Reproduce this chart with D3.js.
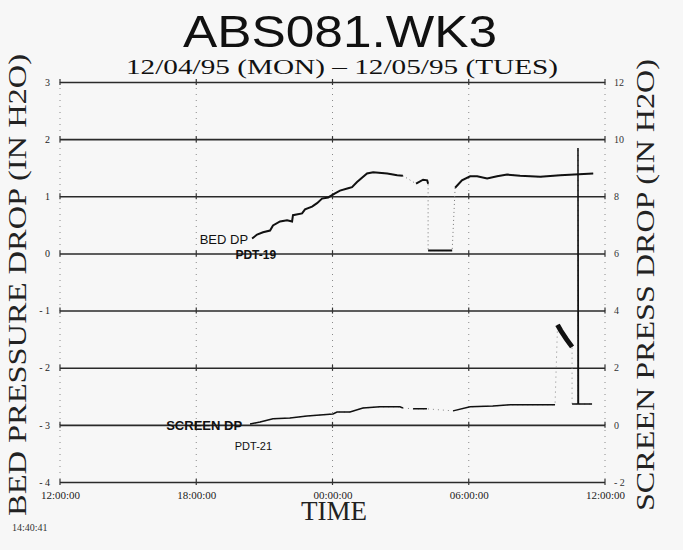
<!DOCTYPE html>
<html>
<head>
<meta charset="utf-8">
<script src="https://cdn.jsdelivr.net/npm/d3@7"></script>
<style>
  body { margin: 0; background: #f7f7f7; }
  svg { display: block; }
</style>
</head>
<body>
<div id="chart"></div>
<script>
// chart values (time in hours after 12:00 on 12/04/95)
var timeTicks = [0, 6, 12, 18, 24];
var timeLabels = ["12:00:00", "18:00:00", "00:00:00", "06:00:00", "12:00:00"];
var bedTicks = [-4, -3, -2, -1, 0, 1, 2, 3];
var screenTicks = [-2, 0, 2, 4, 6, 8, 10, 12];

// BED DP (PDT-19), left axis; null = pen lifted
var bedTime = [8.46, 8.68, 8.94, 9.25, 9.38, 9.69, 10.0, 10.22, 10.26, 10.66, 10.79, 11.1, 11.32, 11.54,
  11.81, 12.11, 12.33, 12.69, 12.86, 13.08, 13.52, 13.79, 14.41, 14.85, 15.1, 15.4,
  15.68, 15.99, 16.17, 16.21, 16.21,
  16.21, 17.27, 17.3,
  17.4, 17.7, 18.06, 18.37, 18.81, 19.25, 19.69, 20.26, 21.15, 22.03, 23.48];
var bedDp = [0.26, 0.33, 0.37, 0.40, 0.49, 0.56, 0.58, 0.56, 0.67, 0.70, 0.77, 0.82, 0.88, 0.96,
  0.98, 1.05, 1.10, 1.14, 1.16, 1.25, 1.40, 1.42, 1.40, 1.37, 1.36, null,
  1.22, 1.29, 1.28, 1.22, null,
  0.05, 0.05, null,
  1.15, 1.28, 1.35, 1.35, 1.31, 1.35, 1.38, 1.36, 1.34, 1.37, 1.40];

// SCREEN DP (PDT-21), right axis
var screenTime = [8.37, 8.81, 9.38, 10.13, 10.88, 12.02, 12.20, 12.77, 13.34, 14.09, 14.97, 15.10, 15.3,
  15.55, 16.16, 16.5,
  17.31, 18.06, 19.07, 19.82, 20.57, 21.80, 21.85,
  21.91, 22.05, 22.3, 22.55, 22.56,
  22.55, 22.81, 22.81, 22.83, 23.43];
var screenDp = [0.03, 0.10, 0.21, 0.24, 0.31, 0.38, 0.45, 0.45, 0.59, 0.63, 0.63, 0.59, null,
  0.56, 0.56, null,
  0.49, 0.63, 0.66, 0.70, 0.70, 0.70, null,
  3.50, 3.30, 3.00, 2.73, null,
  0.73, 0.73, 9.69, 0.73, 0.73];
// the heavy pen stroke near the end of the screen trace starts at this time
var blobStart = 21.91;

(function () {
  var width = 683, height = 550;
  var plotLeft = 60, plotRight = 605, plotTop = 82, plotBottom = 482;

  var svg = d3.select("#chart").append("svg")
    .attr("width", width)
    .attr("height", height);

  var x = d3.scaleLinear().domain([0, 24]).range([plotLeft, plotRight]);
  var yBed = d3.scaleLinear().domain([-4, 3]).range([plotBottom, plotTop]);
  var yScreen = d3.scaleLinear().domain([-2, 12]).range([plotBottom, plotTop]);

  var minusFmt = function (d) { return d < 0 ? "- " + Math.abs(d) : d; };

  // dotted vertical grid
  svg.append("g")
    .selectAll("line")
    .data(timeTicks)
    .enter()
    .append("line")
    .attr("x1", function (d) { return x(d); })
    .attr("x2", function (d) { return x(d); })
    .attr("y1", plotTop)
    .attr("y2", plotBottom)
    .attr("stroke", "#8a8a8a")
    .attr("stroke-dasharray", "1,5");

  // left axis, its ticks drawn across as the solid horizontal grid
  var leftAxis = svg.append("g")
    .attr("transform", "translate(" + plotLeft + ",0)")
    .call(d3.axisLeft(yBed).tickValues(bedTicks).tickSize(-(plotRight - plotLeft)).tickPadding(10)
      .tickFormat(minusFmt));
  leftAxis.select(".domain").remove();
  leftAxis.selectAll("line").attr("stroke", "#2a2a2a").attr("stroke-width", 1.6);
  leftAxis.selectAll("text")
    .style("font-family", "'Liberation Serif', serif")
    .style("font-size", "10px")
    .attr("fill", "#222");

  var rightAxis = svg.append("g")
    .attr("transform", "translate(" + plotRight + ",0)")
    .call(d3.axisRight(yScreen).tickValues(screenTicks).tickSize(0).tickPadding(9)
      .tickFormat(minusFmt));
  rightAxis.select(".domain").remove();
  rightAxis.selectAll("text")
    .style("font-family", "'Liberation Serif', serif")
    .style("font-size", "10px")
    .attr("fill", "#333");

  var bottomAxis = svg.append("g")
    .attr("transform", "translate(0," + plotBottom + ")")
    .call(d3.axisBottom(x).tickValues(timeTicks).tickSize(0).tickPadding(9)
      .tickFormat(function (d, i) { return timeLabels[i]; }));
  bottomAxis.select(".domain").remove();
  bottomAxis.selectAll("text")
    .style("font-family", "'Liberation Serif', serif")
    .style("font-size", "11px")
    .attr("fill", "#222");

  // small "+" tick marks where grid lines cross
  svg.append("g")
    .selectAll("line")
    .data(d3.cross(timeTicks, bedTicks))
    .enter()
    .append("line")
    .attr("x1", function (d) { return x(d[0]); })
    .attr("x2", function (d) { return x(d[0]); })
    .attr("y1", function (d) { return yBed(d[1]) - 3; })
    .attr("y2", function (d) { return yBed(d[1]) + 3; })
    .attr("stroke", "#333")
    .attr("stroke-width", 1.2);

  // series
  function pts(times, vals) {
    return times.map(function (t, i) { return [t, vals[i]]; });
  }
  var bedPts = pts(bedTime, bedDp);
  var screenPts = pts(screenTime, screenDp);
  var notNull = function (d) { return d[1] !== null; };

  var bedLine = d3.line()
    .defined(notNull)
    .x(function (d) { return x(d[0]); })
    .y(function (d) { return yBed(d[1]); });
  var screenLine = d3.line()
    .defined(notNull)
    .x(function (d) { return x(d[0]); })
    .y(function (d) { return yScreen(d[1]); });

  // faint pen travel between pieces
  svg.append("path")
    .attr("d", bedLine(bedPts.filter(notNull)))
    .attr("fill", "none")
    .attr("stroke", "#777")
    .attr("stroke-dasharray", "1,3");
  svg.append("path")
    .attr("d", screenLine(screenPts.filter(notNull)))
    .attr("fill", "none")
    .attr("stroke", "#888")
    .attr("stroke-dasharray", "1,4");

  svg.append("path")
    .attr("d", bedLine(bedPts))
    .attr("fill", "none")
    .attr("stroke", "#111")
    .attr("stroke-width", 2);
  svg.append("path")
    .attr("d", screenLine(screenPts))
    .attr("fill", "none")
    .attr("stroke", "#111")
    .attr("stroke-width", 1.5);

  // heavy stroke: the unbroken run that begins at blobStart
  var i0 = screenTime.indexOf(blobStart), blob = [];
  for (var i = i0; i < screenPts.length && screenDp[i] !== null; i++) blob.push(screenPts[i]);
  svg.append("path")
    .attr("d", screenLine(blob))
    .attr("fill", "none")
    .attr("stroke", "#111")
    .attr("stroke-width", 5);

  // series labels
  function label(txt, px, py, size, weight) {
    svg.append("text")
      .attr("x", px)
      .attr("y", py)
      .attr("text-anchor", "end")
      .style("font-family", "'Liberation Sans', Arial, sans-serif")
      .style("font-size", size + "px")
      .style("font-weight", weight)
      .attr("fill", "#111")
      .text(txt);
  }
  label("BED DP", x(bedTime[0]) - 4, yBed(bedDp[0]) + 5, 13, "normal");
  label("PDT-19", x(bedTime[0]) + 24, yBed(0) + 6, 12, "bold");
  label("SCREEN DP", x(screenTime[0]) - 8, yScreen(0) + 5, 13, "bold");
  label("PDT-21", x(screenTime[0]) + 22, yScreen(0) + 25, 11, "normal");

  // titles
  svg.append("text")
    .attr("x", 340)
    .attr("y", 47)
    .attr("text-anchor", "middle")
    .attr("textLength", 314)
    .attr("lengthAdjust", "spacingAndGlyphs")
    .style("font-family", "'Liberation Sans', Arial, sans-serif")
    .style("font-size", "45px")
    .attr("fill", "#111")
    .text("ABS081.WK3");

  svg.append("text")
    .attr("x", 342)
    .attr("y", 74)
    .attr("text-anchor", "middle")
    .attr("textLength", 432)
    .attr("lengthAdjust", "spacingAndGlyphs")
    .style("font-family", "'Liberation Serif', serif")
    .style("font-size", "22px")
    .attr("fill", "#111")
    .text("12/04/95 (MON) \u2013 12/05/95 (TUES)");

  svg.append("text")
    .attr("transform", "translate(26,285) rotate(-90)")
    .attr("text-anchor", "middle")
    .attr("textLength", 462)
    .attr("lengthAdjust", "spacingAndGlyphs")
    .style("font-family", "'Liberation Serif', serif")
    .style("font-size", "26px")
    .attr("fill", "#222")
    .text("BED PRESSURE DROP (IN H2O)");

  svg.append("text")
    .attr("transform", "translate(654,285) rotate(-90)")
    .attr("text-anchor", "middle")
    .attr("textLength", 452)
    .attr("lengthAdjust", "spacingAndGlyphs")
    .style("font-family", "'Liberation Serif', serif")
    .style("font-size", "26px")
    .attr("fill", "#222")
    .text("SCREEN PRESS DROP (IN H2O)");

  svg.append("text")
    .attr("x", 334)
    .attr("y", 520)
    .attr("text-anchor", "middle")
    .style("font-family", "'Liberation Serif', serif")
    .style("font-size", "27px")
    .attr("fill", "#222")
    .text("TIME");

  svg.append("text")
    .attr("x", 12)
    .attr("y", 531)
    .style("font-family", "'Liberation Serif', serif")
    .style("font-size", "10px")
    .attr("fill", "#333")
    .text("14:40:41");
})();
</script>
</body>
</html>
